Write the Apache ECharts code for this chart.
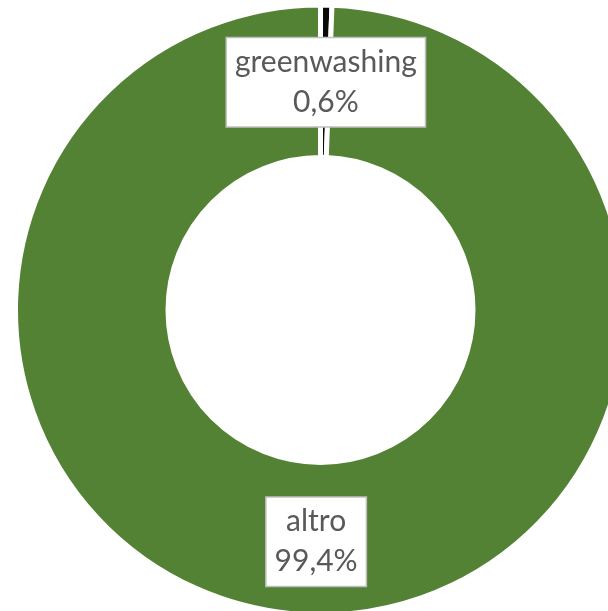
<!DOCTYPE html>
<html>
<head>
<meta charset="utf-8">
<script src="https://cdn.jsdelivr.net/npm/echarts@6/dist/echarts.min.js"></script>
<style>
html,body{margin:0;padding:0;background:#fff;}
#chart{width:608px;height:611px;}
</style>
</head>
<body>
<div id="chart"></div>
<script>
var categories = ['greenwashing', 'altro'];
var values = [0.6, 99.4];
var colors = ['#0a0a0a', '#548235'];

var chart = echarts.init(document.getElementById('chart'), null, {renderer: 'canvas'});
chart.setOption({
  animation: false,
  backgroundColor: '#ffffff',
  series: [{
    type: 'pie',
    center: [320.5, 310],
    radius: [152.5, 305],
    startAngle: 90,
    clockwise: true,
    avoidLabelOverlap: false,
    silent: true,
    data: categories.map(function (c, i) {
      var d = { name: c, value: values[i], itemStyle: { color: colors[i] } };
      if (i === 0) { d.label = { offset: [1, 4] }; }
      return d;
    }),
    itemStyle: { borderColor: '#ffffff', borderWidth: 5 },
    label: {
      show: true,
      position: 'inside',
      formatter: function (p) {
        return p.name + '\n' + p.value.toFixed(1).replace('.', ',') + '%';
      },
      fontFamily: 'Lato',
      fontSize: 30,
      lineHeight: 40,
      color: '#595959',
      backgroundColor: '#ffffff',
      borderColor: '#bfbfbf',
      borderWidth: 1.5,
      padding: [4, 8],
      align: 'center',
      verticalAlign: 'middle'
    },
    labelLine: { show: false },
    emphasis: { disabled: true }
  }]
});
</script>
</body>
</html>
